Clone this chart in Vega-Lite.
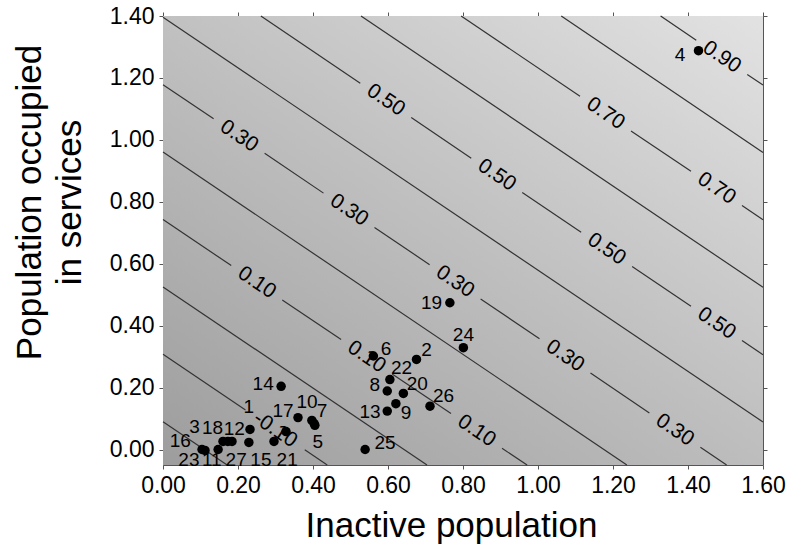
{
  "$schema": "https://vega.github.io/schema/vega-lite/v6.json",
  "width": 600,
  "height": 449,
  "autosize": {"type": "none"},
  "padding": {"left": 163, "top": 16, "right": 31, "bottom": 87},
  "background": "white",
  "config": {"view": {"stroke": null}, "font": "Liberation Sans"},
  "datasets": {
    "bg": [{"x0": 0, "x1": 1.6, "y0": -0.05, "y1": 1.4}],
    "seg": [
      {"seg": "s1", "x": 0, "y": 0.090}, {"seg": "s1", "x": 0.171, "y": -0.05},
      {"seg": "s2", "x": 0, "y": 0.308}, {"seg": "s2", "x": 0.220, "y": 0.128},
      {"seg": "s3", "x": 0.378, "y": -0.001}, {"seg": "s3", "x": 0.438, "y": -0.05},
      {"seg": "s4", "x": 0, "y": 0.525}, {"seg": "s4", "x": 0.704, "y": -0.05},
      {"seg": "s5", "x": 0, "y": 0.743}, {"seg": "s5", "x": 0.182, "y": 0.594},
      {"seg": "s6", "x": 0.318, "y": 0.483}, {"seg": "s6", "x": 0.475, "y": 0.355},
      {"seg": "s7", "x": 0.611, "y": 0.244}, {"seg": "s7", "x": 0.768, "y": 0.116},
      {"seg": "s8", "x": 0.904, "y": 0.004}, {"seg": "s8", "x": 0.971, "y": -0.05},
      {"seg": "s9", "x": 0, "y": 0.961}, {"seg": "s9", "x": 1.237, "y": -0.05},
      {"seg": "s10", "x": 0, "y": 1.178}, {"seg": "s10", "x": 0.135, "y": 1.068},
      {"seg": "s11", "x": 0.271, "y": 0.957}, {"seg": "s11", "x": 0.428, "y": 0.828},
      {"seg": "s12", "x": 0.564, "y": 0.717}, {"seg": "s12", "x": 0.711, "y": 0.597},
      {"seg": "s13", "x": 0.847, "y": 0.486}, {"seg": "s13", "x": 1.004, "y": 0.358},
      {"seg": "s14", "x": 1.140, "y": 0.247}, {"seg": "s14", "x": 1.297, "y": 0.118},
      {"seg": "s15", "x": 1.433, "y": 0.007}, {"seg": "s15", "x": 1.503, "y": -0.05},
      {"seg": "s16", "x": 0, "y": 1.396}, {"seg": "s16", "x": 1.6, "y": 0.089},
      {"seg": "s17", "x": 0.261, "y": 1.40}, {"seg": "s17", "x": 0.526, "y": 1.183},
      {"seg": "s18", "x": 0.662, "y": 1.072}, {"seg": "s18", "x": 0.822, "y": 0.941},
      {"seg": "s19", "x": 0.958, "y": 0.830}, {"seg": "s19", "x": 1.115, "y": 0.702},
      {"seg": "s20", "x": 1.251, "y": 0.591}, {"seg": "s20", "x": 1.408, "y": 0.463},
      {"seg": "s21", "x": 1.544, "y": 0.352}, {"seg": "s21", "x": 1.6, "y": 0.306},
      {"seg": "s22", "x": 0.528, "y": 1.40}, {"seg": "s22", "x": 1.6, "y": 0.524},
      {"seg": "s23", "x": 0.795, "y": 1.40}, {"seg": "s23", "x": 1.112, "y": 1.141},
      {"seg": "s24", "x": 1.248, "y": 1.029}, {"seg": "s24", "x": 1.408, "y": 0.899},
      {"seg": "s25", "x": 1.544, "y": 0.788}, {"seg": "s25", "x": 1.6, "y": 0.742},
      {"seg": "s26", "x": 1.062, "y": 1.40}, {"seg": "s26", "x": 1.6, "y": 0.959},
      {"seg": "s27", "x": 1.327, "y": 1.40}, {"seg": "s27", "x": 1.422, "y": 1.322},
      {"seg": "s28", "x": 1.558, "y": 1.211}, {"seg": "s28", "x": 1.6, "y": 1.177}
    ],
    "clab": [
      {"t": "-0.10", "x": 0.299, "y": 0.064},
      {"t": "0.10", "x": 0.250, "y": 0.539},
      {"t": "0.10", "x": 0.543, "y": 0.299},
      {"t": "0.10", "x": 0.836, "y": 0.060},
      {"t": "0.30", "x": 0.203, "y": 1.012},
      {"t": "0.30", "x": 0.496, "y": 0.773},
      {"t": "0.30", "x": 0.779, "y": 0.542},
      {"t": "0.30", "x": 1.072, "y": 0.302},
      {"t": "0.30", "x": 1.365, "y": 0.063},
      {"t": "0.50", "x": 0.594, "y": 1.128},
      {"t": "0.50", "x": 0.890, "y": 0.886},
      {"t": "0.50", "x": 1.183, "y": 0.647},
      {"t": "0.50", "x": 1.476, "y": 0.407},
      {"t": "0.70", "x": 1.180, "y": 1.085},
      {"t": "0.70", "x": 1.476, "y": 0.843},
      {"t": "0.90", "x": 1.490, "y": 1.267}
    ],
    "pts": [
      {"id": "16", "x": 0.104, "y": 0.000, "lx": 0.046, "ly": 0.029},
      {"id": "23", "x": 0.112, "y": -0.003, "lx": 0.069, "ly": -0.035},
      {"id": "11", "x": 0.147, "y": 0.000, "lx": 0.130, "ly": -0.035},
      {"id": "27", "x": 0.229, "y": 0.023, "lx": 0.195, "ly": -0.035},
      {"id": "15", "x": 0.296, "y": 0.026, "lx": 0.261, "ly": -0.035},
      {"id": "21", "x": 0.328, "y": 0.058, "lx": 0.331, "ly": -0.035},
      {"id": "3", "x": 0.160, "y": 0.026, "lx": 0.084, "ly": 0.074},
      {"id": "18", "x": 0.173, "y": 0.026, "lx": 0.132, "ly": 0.068},
      {"id": "12", "x": 0.184, "y": 0.026, "lx": 0.190, "ly": 0.066},
      {"id": "1", "x": 0.232, "y": 0.065, "lx": 0.229, "ly": 0.136},
      {"id": "17", "x": 0.360, "y": 0.103, "lx": 0.320, "ly": 0.123},
      {"id": "10", "x": 0.397, "y": 0.094, "lx": 0.384, "ly": 0.155},
      {"id": "7", "x": 0.403, "y": 0.084, "lx": 0.424, "ly": 0.123},
      {"id": "5", "x": 0.405, "y": 0.078, "lx": 0.413, "ly": 0.023},
      {"id": "14", "x": 0.315, "y": 0.204, "lx": 0.267, "ly": 0.213},
      {"id": "19", "x": 0.765, "y": 0.474, "lx": 0.716, "ly": 0.474},
      {"id": "24", "x": 0.801, "y": 0.329, "lx": 0.801, "ly": 0.369},
      {"id": "6", "x": 0.561, "y": 0.302, "lx": 0.595, "ly": 0.323},
      {"id": "2", "x": 0.676, "y": 0.291, "lx": 0.703, "ly": 0.321},
      {"id": "22", "x": 0.605, "y": 0.226, "lx": 0.636, "ly": 0.264},
      {"id": "8", "x": 0.598, "y": 0.189, "lx": 0.565, "ly": 0.207},
      {"id": "20", "x": 0.641, "y": 0.181, "lx": 0.678, "ly": 0.210},
      {"id": "9", "x": 0.621, "y": 0.148, "lx": 0.648, "ly": 0.119},
      {"id": "13", "x": 0.598, "y": 0.124, "lx": 0.552, "ly": 0.121},
      {"id": "26", "x": 0.712, "y": 0.140, "lx": 0.748, "ly": 0.172},
      {"id": "25", "x": 0.539, "y": 0.000, "lx": 0.592, "ly": 0.022},
      {"id": "4", "x": 1.428, "y": 1.288, "lx": 1.379, "ly": 1.274}
    ]
  },
  "resolve": {"axis": {"x": "independent", "y": "independent"}},
  "layer": [
    {
      "data": {"name": "bg"},
      "mark": {
        "type": "rect",
        "color": {
          "gradient": "linear",
          "x1": 0, "y1": 1, "x2": 0.945, "y2": -0.05,
          "stops": [
            {"offset": 0, "color": "#9d9d9d"},
            {"offset": 0.5, "color": "#bfbfbf"},
            {"offset": 1, "color": "#e2e2e2"}
          ]
        }
      },
      "encoding": {
        "x": {
          "field": "x0", "type": "quantitative",
          "scale": {"domain": [0, 1.6], "nice": false, "zero": false},
          "axis": {
            "orient": "bottom",
            "values": [0, 0.2, 0.4, 0.6, 0.8, 1.0, 1.2, 1.4, 1.6],
            "format": ".2f",
            "grid": false,
            "labelFlush": false,
            "labelOverlap": false,
            "labelFontSize": 23,
            "labelColor": "#000000",
            "labelPadding": 5,
            "tickSize": 4,
            "tickColor": "#555555",
            "domainColor": "#555555",
            "title": "Inactive population",
            "titleFontSize": 35,
            "titleFontWeight": "normal",
            "titleColor": "#000000",
            "titleX": 288,
            "titleY": 71,
            "titleAlign": "center",
            "titleBaseline": "alphabetic"
          }
        },
        "x2": {"field": "x1"},
        "y": {
          "field": "y0", "type": "quantitative",
          "scale": {"domain": [-0.05, 1.4], "nice": false, "zero": false},
          "axis": {
            "orient": "left",
            "values": [0, 0.2, 0.4, 0.6, 0.8, 1.0, 1.2, 1.4],
            "format": ".2f",
            "grid": false,
            "labelFlush": false,
            "labelOverlap": false,
            "labelFontSize": 23,
            "labelColor": "#000000",
            "labelPadding": 5,
            "tickSize": 4,
            "tickColor": "#555555",
            "domainColor": "#555555",
            "title": ["Population occupied", "in services"],
            "titleFontSize": 35,
            "titleFontWeight": "normal",
            "titleColor": "#000000",
            "titleAngle": -90,
            "titleX": -123,
            "titleY": 186,
            "titleAlign": "center",
            "titleBaseline": "alphabetic",
            "titleLineHeight": 40
          }
        },
        "y2": {"field": "y1"}
      }
    },
    {
      "data": {"name": "seg"},
      "mark": {"type": "line", "stroke": "#333333", "strokeWidth": 1.2},
      "encoding": {
        "x": {
          "field": "x", "type": "quantitative",
          "scale": {"domain": [0, 1.6], "nice": false, "zero": false},
          "axis": {
            "orient": "top",
            "values": [0, 0.2, 0.4, 0.6, 0.8, 1.0, 1.2, 1.4, 1.6],
            "labels": false, "grid": false, "title": null,
            "tickSize": 4, "tickColor": "#555555", "domainColor": "#555555"
          }
        },
        "y": {
          "field": "y", "type": "quantitative",
          "scale": {"domain": [-0.05, 1.4], "nice": false, "zero": false},
          "axis": {
            "orient": "right",
            "values": [0, 0.2, 0.4, 0.6, 0.8, 1.0, 1.2, 1.4],
            "labels": false, "grid": false, "title": null,
            "tickSize": 4, "tickColor": "#555555", "domainColor": "#555555"
          }
        },
        "detail": {"field": "seg", "type": "nominal"}
      }
    },
    {
      "data": {"name": "clab"},
      "mark": {"type": "text", "angle": 34, "fontSize": 21, "color": "#000000", "align": "center", "baseline": "middle"},
      "encoding": {
        "x": {"field": "x", "type": "quantitative", "scale": {"domain": [0, 1.6], "nice": false, "zero": false}, "axis": null},
        "y": {"field": "y", "type": "quantitative", "scale": {"domain": [-0.05, 1.4], "nice": false, "zero": false}, "axis": null},
        "text": {"field": "t", "type": "nominal"}
      }
    },
    {
      "data": {"name": "pts"},
      "mark": {"type": "circle", "size": 90, "color": "#000000", "opacity": 1},
      "encoding": {
        "x": {"field": "x", "type": "quantitative", "scale": {"domain": [0, 1.6], "nice": false, "zero": false}, "axis": null},
        "y": {"field": "y", "type": "quantitative", "scale": {"domain": [-0.05, 1.4], "nice": false, "zero": false}, "axis": null}
      }
    },
    {
      "data": {"name": "pts"},
      "mark": {"type": "text", "fontSize": 19, "color": "#000000", "align": "center", "baseline": "middle"},
      "encoding": {
        "x": {"field": "lx", "type": "quantitative", "scale": {"domain": [0, 1.6], "nice": false, "zero": false}, "axis": null},
        "y": {"field": "ly", "type": "quantitative", "scale": {"domain": [-0.05, 1.4], "nice": false, "zero": false}, "axis": null},
        "text": {"field": "id", "type": "nominal"}
      }
    }
  ]
}
